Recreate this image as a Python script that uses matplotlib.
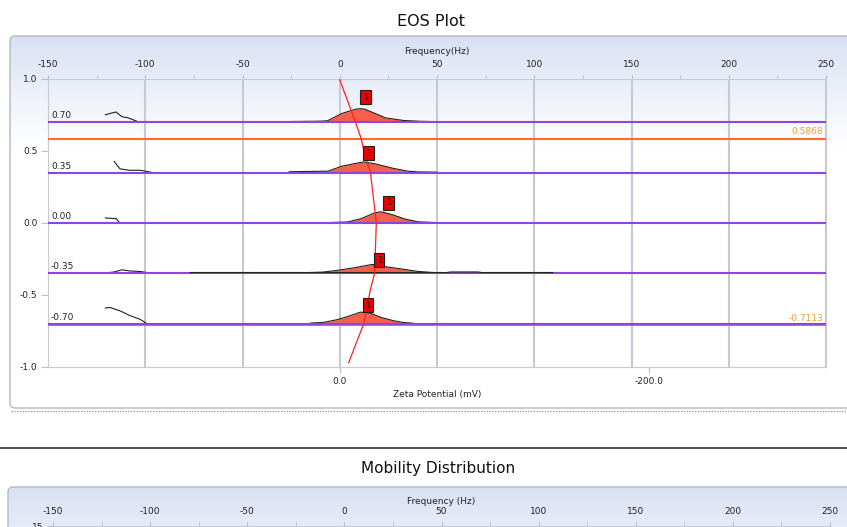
import numpy as np
import matplotlib.pyplot as plt
from matplotlib.patches import FancyBboxPatch
from matplotlib.ticker import FormatStrFormatter, MultipleLocator

plt.rcParams['axes.unicode_minus'] = False

# trace baselines and labels
levels = [0.70, 0.35, 0.00, -0.35, -0.70]
level_labels = ['0.70', '0.35', '0.00', '-0.35', '-0.70']

# main peak of every trace: frequency (Hz) and height above its baseline
peak_f = [
    [-29.5, -10, -6.3, 1, 8, 10.6, 13, 23.5, 32.7, 42, 50],
    [-26, -6, 0.9, 9.4, 12.3, 17.8, 28, 35, 40, 50],
    [-6.3, 4, 11, 17.8, 21.2, 26.5, 33.4, 40.3, 50],
    [-20, -8.8, -1.2, 7.4, 16.8, 23.7, 33.2, 40, 47, 55.4],
    [-15, -8.4, -1.5, 5.4, 10.6, 15.7, 20.9, 27.7, 32.8, 38],
]
peak_h = [
    [0.004, 0.007, 0.01, 0.06, 0.09, 0.094, 0.09, 0.03, 0.012, 0.006, 0.004],
    [0.006, 0.01, 0.044, 0.067, 0.074, 0.062, 0.028, 0.01, 0.005, 0.003],
    [0.003, 0.007, 0.03, 0.07, 0.078, 0.06, 0.028, 0.008, 0.003],
    [0.004, 0.009, 0.021, 0.039, 0.0625, 0.046, 0.028, 0.014, 0.007, 0.002],
    [0.005, 0.01, 0.028, 0.056, 0.081, 0.074, 0.046, 0.021, 0.009, 0.004],
]

# small signal at the negative side of every trace
side_f = [
    [-120.5, -115, -112, -109, -103],
    [-116, -113, -108, -102.5, -96],
    [-120.5, -115, -113, -106],
    [-120.5, -116, -112, -108, -102.5, -96],
    [-120.5, -118, -113, -108, -102.5, -99],
]
side_h = [
    [0.052, 0.071, 0.038, 0.031, 0.0],
    [0.078, 0.026, 0.016, 0.016, 0.0],
    [0.035, 0.03, 0.0, 0.0],
    [0.003, 0.01, 0.025, 0.017, 0.013, 0.0],
    [0.11, 0.113, 0.09, 0.058, 0.03, 0.0],
]

# long flat tail on the -0.35 trace
tail_f = [-77, 55, 57, 71, 73, 109.5]
tail_h = [0.006, 0.006, 0.01, 0.01, 0.006, 0.006]

# peak markers
marker_f = [13.2, 14.8, 25, 20.3, 14.4]
marker_y = [0.875, 0.486, 0.139, -0.26, -0.572]

# red fit curve
curve_y = [0.995, 0.70, 0.5868, 0.47, 0.35, 0.0, -0.35, -0.46, -0.70, -0.97]
curve_f = [0.0, 8.1, 11.0, 13.0, 15.8, 18.8, 17.9, 15.8, 12.3, 4.6]

# reference lines
ref_y = [0.5868, -0.7113]
ref_labels = ['0.5868', '-0.7113']

freq_ticks = [-150, -100, -50, 0, 50, 100, 150, 200, 250]
zeta_ticks = [0.0, -200.0]
zeta_per_hz = -1.2594

W, H = 847, 527
fig = plt.figure(figsize=(W / 100, H / 100), dpi=100)

# background in pixel coordinates
bg = fig.add_axes([0, 0, 1, 1], zorder=0)
bg.axis('off')


def panel(x0, y0, x1, y1):
    box = FancyBboxPatch((x0, y0), x1 - x0, y1 - y0,
                         boxstyle='round,pad=0,rounding_size=5',
                         fc='none', ec='#b4bac2', lw=1, zorder=2)
    bg.add_patch(box)
    t = np.clip((np.arange(y0, y1) - y0) / 110.0, 0, 1)
    top = np.array([0.85, 0.88, 0.95])
    grad = top[None, :] * (1 - t[:, None]) + t[:, None]
    img = bg.imshow(grad[:, None, :], extent=(x0, x1, y1, y0),
                    aspect='auto', zorder=1)
    img.set_clip_path(box)


panel(10, 36, 870, 408)
panel(8, 487, 870, 600)
bg.plot([11, 847], [410.5, 410.5], color='#a0a0a0', lw=1, ls=(0, (1, 1)))
bg.plot([0, 847], [448, 448], color='#303030', lw=1.2)
bg.set_xlim(0, W)
bg.set_ylim(H, 0)

fig.text(431 / W, 1 - 22 / H, 'EOS Plot', ha='center', va='center',
         fontsize=11.5, color='#111111')
fig.text(438 / W, 1 - 469 / H, 'Mobility Distribution', ha='center',
         va='center', fontsize=11, color='#111111')

grid_c = '#c4cad2'
tick_c = '#b8bec6'
text_c = '#222222'

# ---- EOS plot ----
ax = fig.add_axes([48 / W, 1 - 367 / H, 778 / W, 288 / H], zorder=3)
ax.patch.set_alpha(0)
ax.set_xlim(-150, 250)
ax.set_ylim(-1.0, 1.0)
for s in ax.spines.values():
    s.set_color('#c8ccd2')
ax.xaxis.set_ticks_position('top')
ax.xaxis.set_label_position('top')
ax.set_xticks(freq_ticks)
ax.xaxis.set_minor_locator(MultipleLocator(25))
ax.set_yticks([1.0, 0.5, 0.0, -0.5, -1.0])
ax.yaxis.set_major_formatter(FormatStrFormatter('%.1f'))
ax.tick_params(axis='x', which='both', direction='out', length=3,
               color=tick_c, labelsize=6.5, labelcolor=text_c, pad=4)
ax.tick_params(axis='y', direction='out', length=5, color=tick_c,
               labelsize=6.5, labelcolor=text_c, pad=2.5)
ax.set_xlabel('Frequency(Hz)', fontsize=6.5, color=text_c, labelpad=4.5)
ax.grid(axis='x', color=grid_c, lw=1.5)

for i, lvl in enumerate(levels):
    f = np.array(peak_f[i])
    y = lvl + np.array(peak_h[i])
    ax.fill_between(f, lvl, y, color='#f6604a', lw=0, zorder=3)
    ax.plot(f, y, color='#202020', lw=0.8, zorder=4)
    ax.plot(side_f[i], lvl + np.array(side_h[i]), color='#202020', lw=0.8,
            zorder=4)
    ax.axhline(lvl, color='#8e44e0', lw=1.5, zorder=5)
    ax.annotate(level_labels[i], (-148.5, lvl), xytext=(0, 1.5),
                textcoords='offset points', fontsize=6.5, color=text_c,
                va='bottom', ha='left', zorder=6)
ax.plot(tail_f, levels[3] + np.array(tail_h), color='#202020', lw=0.8,
        zorder=6)

for yv, lab in zip(ref_y, ref_labels):
    ax.axhline(yv, color='#ff6a30', lw=1.5, zorder=4.5)
    ax.annotate(lab, (248.5, yv), xytext=(0, 1.5), textcoords='offset points',
                fontsize=6.5, color='#f5a030', ha='right', va='bottom',
                zorder=6)

ax.plot(curve_f, curve_y, color='#ff2020', lw=0.9, zorder=7)

for fm, ym in zip(marker_f, marker_y):
    ax.text(fm, ym, '1', ha='center', va='center', fontsize=6,
            color='#222222', zorder=8,
            bbox=dict(boxstyle='square,pad=0.3', fc='#ee0000',
                      ec='#202020', lw=0.8))

secax = ax.secondary_xaxis('bottom', functions=(lambda f: f * zeta_per_hz,
                                                lambda z: z / zeta_per_hz))
secax.set_xticks(zeta_ticks)
secax.xaxis.set_major_formatter(FormatStrFormatter('%.1f'))
secax.tick_params(direction='out', length=4, color=tick_c, labelsize=6.5,
                  labelcolor=text_c, pad=3)
secax.spines['bottom'].set_color('#c8ccd2')
secax.set_xlabel('Zeta Potential (mV)', fontsize=6.5, color=text_c,
                 labelpad=3)

# ---- Mobility distribution (top part only visible) ----
ax2 = fig.add_axes([53 / W, -0.4, 777 / W, 0.4 + (1 - 526 / H)], zorder=3)
ax2.patch.set_alpha(0)
ax2.set_xlim(-150, 250)
ax2.set_ylim(0, 15)
for s in ax2.spines.values():
    s.set_color('#c8ccd2')
ax2.xaxis.set_ticks_position('top')
ax2.xaxis.set_label_position('top')
ax2.set_xticks(freq_ticks)
ax2.xaxis.set_minor_locator(MultipleLocator(25))
ax2.set_yticks([15])
ax2.tick_params(axis='x', which='both', direction='out', length=3,
                color=tick_c, labelsize=6.5, labelcolor=text_c, pad=4)
ax2.tick_params(axis='y', direction='out', length=4, color=tick_c,
                labelsize=6.5, labelcolor=text_c, pad=3)
ax2.set_xlabel('Frequency (Hz)', fontsize=6.5, color=text_c, labelpad=2)
ax2.axvline(14, color='#ff40ff', lw=1.2)

fig.savefig('out.png', dpi=100)
